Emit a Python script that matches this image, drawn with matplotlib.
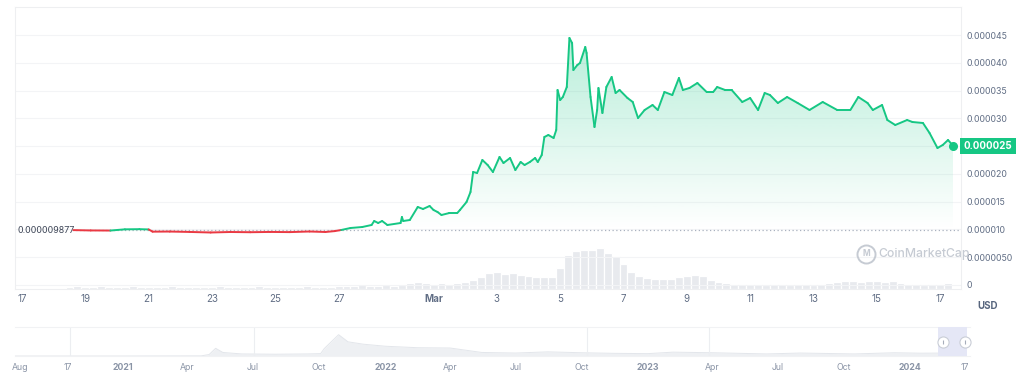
import numpy as np
import pandas as pd
import matplotlib
matplotlib.use("Agg")
import matplotlib.pyplot as plt
import matplotlib.dates as mdates
from matplotlib.collections import LineCollection
from matplotlib.path import Path
from matplotlib.patches import PathPatch, Rectangle
from matplotlib.lines import Line2D
from matplotlib.colors import to_rgb

plt.rcParams["font.family"] = ["Inter", "DejaVu Sans"]

GREEN = "#16c784"
RED = "#ea3943"
GREY = "#616e85"

START = pd.Timestamp("2024-02-17")
BASE_PRICE = 9.877e-6

# price, hours since 2024-02-17 00:00, in units of 1e-6 USD
price_hours = [39, 52, 67, 78, 89, 96, 99, 112, 127, 143,
               158, 173, 188, 203, 218, 230, 237, 242, 249, 258,
               265, 267, 270, 273, 277, 287, 288, 289, 294, 300,
               304, 309, 312, 315, 318, 324, 330, 332, 337, 340,
               342, 345, 349, 353, 357, 362, 365, 370, 374, 378,
               381, 385, 389, 391, 394, 396, 399, 403, 405, 406,
               408, 410, 413, 415, 417, 418, 421, 423, 427, 428,
               431, 434, 436, 437, 440, 443, 447, 450, 453, 459,
               463, 467, 472, 478, 482, 487, 493, 498, 501, 506,
               512, 519, 524, 527, 533, 538, 546, 552, 558, 563,
               567, 573, 580, 588, 597, 607, 618, 628, 634, 641,
               645, 652, 656, 662, 671, 675, 683, 688, 694, 698,
               702, 706]
price_e6 = [9.88, 9.82, 9.80, 10.02, 10.05, 10.00, 9.60, 9.62, 9.55, 9.45,
            9.54, 9.50, 9.55, 9.52, 9.63, 9.54, 9.70, 9.90, 10.26, 10.44,
            10.80, 11.52, 11.16, 11.52, 10.80, 11.16, 12.24, 11.52, 11.70, 14.04,
            13.68, 14.22, 13.50, 13.14, 12.60, 12.96, 12.96, 13.50, 14.94, 16.74,
            20.34, 20.16, 22.50, 21.60, 20.34, 23.04, 21.96, 22.86, 20.70, 22.14,
            21.60, 22.14, 22.86, 22.14, 23.40, 26.64, 27.00, 26.46, 27.90, 35.10,
            33.30, 33.84, 35.64, 44.46, 43.56, 38.70, 39.60, 39.96, 42.84, 41.76,
            33.84, 28.44, 31.50, 35.46, 30.96, 35.64, 37.44, 34.56, 35.10, 33.66,
            32.94, 30.06, 31.50, 32.40, 31.50, 34.74, 34.20, 37.26, 35.10, 35.46,
            36.36, 34.74, 34.74, 35.64, 35.10, 35.10, 32.94, 33.66, 31.50, 34.56,
            34.20, 32.76, 33.84, 32.76, 31.50, 32.94, 31.50, 31.50, 33.84, 32.76,
            31.50, 32.40, 29.70, 28.80, 29.70, 29.34, 29.16, 27.36, 24.66, 25.20,
            26.10, 25.02]

# 6-hour volume bars (relative units), first bar at hour 36
volume = [2, 3, 2, 2, 3, 2, 2, 2, 3, 2,
          2, 2, 2, 3, 2, 2, 2, 2, 2, 3,
          2, 2, 2, 2, 3, 2, 2, 2, 2, 2,
          3, 2, 2, 2, 3,
          3, 3, 4, 3, 3, 4, 3, 4,
          6, 7, 6, 5, 6, 5, 6, 7,
          9, 12,
          16, 17, 15, 16,
          14, 13, 12, 12,
          12, 21, 33, 37, 38, 38, 40, 35, 32, 24, 17, 13, 11,
          10, 10, 10, 12, 13, 14, 13, 9, 7, 6, 5, 5, 5,
          5, 4, 5, 5, 4, 5, 5, 4,
          5, 6, 7, 8, 8, 7, 8,
          8, 7, 8, 6, 5,
          5, 4, 5, 5, 6]

x_tick_dates = ["2024-02-17", "2024-02-19", "2024-02-21", "2024-02-23", "2024-02-25",
                "2024-02-27", "2024-03-01", "2024-03-03", "2024-03-05", "2024-03-07",
                "2024-03-09", "2024-03-11", "2024-03-13", "2024-03-15", "2024-03-17"]
x_tick_labels = ["17", "19", "21", "23", "25", "27", "Mar", "3", "5", "7",
                 "9", "11", "13", "15", "17"]

# the 0.000025 level is covered by the current-price tag
y_tick_e6 = [0, 5, 10, 15, 20, 25, 30, 35, 40, 45]
y_tick_labels = ["0", "0.0000050", "0.000010", "0.000015", "0.000020",
                 "", "0.000030", "0.000035", "0.000040", "0.000045"]
last_price_label = "0.000025"

# full-history navigator (1e-6 USD)
nav_dates = ["2020-08-04", "2020-12-31", "2021-04-20", "2021-05-01", "2021-05-10",
             "2021-05-20", "2021-06-15", "2021-08-01", "2021-09-15", "2021-10-03",
             "2021-10-08", "2021-10-28", "2021-11-10", "2021-12-01", "2022-01-01",
             "2022-02-15", "2022-04-01", "2022-05-15", "2022-07-01", "2022-08-15",
             "2022-10-01", "2022-11-15", "2023-01-01", "2023-02-05", "2023-04-01",
             "2023-06-15", "2023-08-01", "2023-10-15", "2023-12-10", "2024-01-15",
             "2024-02-17", "2024-03-05", "2024-03-17"]
nav_price_e6 = [0.0, 0.01, 0.5, 5, 26, 12, 7, 6, 7, 8,
                25, 72, 48, 40, 33, 28, 27, 12, 10, 14,
                11, 9, 8, 13, 11, 7, 10, 7, 11, 9.5,
                9.9, 35, 25]
nav_grid_dates = ["2020-10-20", "2021-07-03", "2022-10-08", "2023-03-27"]
nav_tick_dates = ["2020-08-11", "2020-10-17", "2021-01-01", "2021-04-01", "2021-07-01",
                  "2021-10-01", "2022-01-01", "2022-04-01", "2022-07-01", "2022-10-01",
                  "2023-01-01", "2023-04-01", "2023-07-01", "2023-10-01", "2024-01-01",
                  "2024-03-17"]
nav_tick_labels = ["Aug", "17", "2021", "Apr", "Jul", "Oct", "2022", "Apr", "Jul", "Oct",
                   "2023", "Apr", "Jul", "Oct", "2024", "17"]


def to_num(dates):
    return mdates.date2num(pd.to_datetime(dates).values)


def main():
    fig = plt.figure(figsize=(10.24, 3.82), dpi=100)
    W, H = 1024, 382

    # -----------------------
    # main price panel
    # -----------------------
    ax = fig.add_axes([15 / W, 1 - 289 / H, 946 / W, 282 / H])
    vax = ax.twinx()
    ax.set_zorder(vax.get_zorder() + 1)
    ax.patch.set_visible(False)

    t = mdates.date2num((START + pd.to_timedelta(price_hours, unit="h")).values)
    p = np.array(price_e6) * 1e-6
    t0 = mdates.date2num(START.to_datetime64())

    # volume
    vol_t = mdates.date2num((START + pd.to_timedelta(np.arange(36, 36 + 6 * len(volume), 6), unit="h")).values)
    vax.bar(vol_t, volume, width=0.25, color="#e8eaee", edgecolor="white", linewidth=0.9)
    vax.set_ylim(0, max(volume) / 0.145)
    vax.set_yticks([])
    for s in vax.spines.values():
        s.set_visible(False)

    # gradient fill above the opening price
    above = ax.fill_between(t, p, BASE_PRICE, where=p >= BASE_PRICE, interpolate=True,
                            facecolor="none", edgecolor="none")
    clip = PathPatch(Path.make_compound_path(*above.get_paths()), transform=ax.transData,
                     facecolor="none", edgecolor="none")
    ax.add_patch(clip)
    grad = np.zeros((256, 1, 4))
    grad[:, 0, :3] = to_rgb(GREEN)
    grad[:, 0, 3] = np.linspace(0.30, 0.0, 256)
    im = ax.imshow(grad, aspect="auto", origin="upper", zorder=2,
                   extent=[t.min(), t.max(), BASE_PRICE, p.max()])
    im.set_clip_path(clip)
    ax.fill_between(t, p, BASE_PRICE, where=p < BASE_PRICE, interpolate=True,
                    color=RED, alpha=0.08, lw=0, zorder=2)

    # price line, red below opening price, green above
    pts = np.column_stack([t, p])
    segs = np.stack([pts[:-1], pts[1:]], axis=1)
    mid = (p[:-1] + p[1:]) / 2
    colors = [GREEN if m >= BASE_PRICE else RED for m in mid]
    lc = LineCollection(segs, colors=colors, linewidths=1.4, capstyle="round", zorder=4)
    ax.add_collection(lc)
    ax.plot(t[-1], p[-1], "o", ms=5.5, color=GREEN, zorder=6)

    ax.axhline(BASE_PRICE, xmin=0.06, color="#a9b1bf", lw=0.9, ls=(0, (1, 2)), zorder=3)
    ax.text(0.003, BASE_PRICE, "0.000009877", transform=ax.get_yaxis_transform(),
            ha="left", va="center", fontsize=6.4, color="#3d4556")

    ax.set_xlim(t0 - 0.221, t0 + 29.66)
    ax.set_ylim(-0.72e-6, 50.04e-6)

    ax.set_xticks(to_num(x_tick_dates))
    ax.set_xticklabels(x_tick_labels)
    for lab in ax.get_xticklabels():
        if lab.get_text() == "Mar":
            lab.set_fontweight("bold")
            lab.set_color("#3d4556")
    ax.tick_params(axis="x", length=0, pad=3.5, labelsize=7, labelcolor=GREY)

    ax.yaxis.tick_right()
    ax.set_yticks(np.array(y_tick_e6) * 1e-6)
    ax.set_yticklabels(y_tick_labels)
    ax.tick_params(axis="y", length=0, pad=4, labelsize=6.3, labelcolor=GREY)
    ax.grid(axis="y", color="#f3f4f6", lw=0.8)
    for s in ax.spines.values():
        s.set_color("#eeeff1")
        s.set_linewidth(0.8)

    ax.text(1.003, p[-1], last_price_label, transform=ax.get_yaxis_transform(),
            ha="left", va="center", fontsize=7, color="white", fontweight="bold",
            bbox=dict(boxstyle="square,pad=0.35", fc=GREEN, ec="none"),
            zorder=10, clip_on=False)

    # watermark
    fig.add_artist(Line2D([866 / W], [1 - 254 / H], marker="o", ms=13, mfc="none",
                          mec="#c6cbd3", mew=1.4, transform=fig.transFigure))
    fig.text(866 / W, 1 - 254 / H, "M", fontsize=6, color="#c6cbd3", fontweight="bold",
             ha="center", va="center")
    fig.text(878 / W, 1 - 254 / H, "CoinMarketCap", fontsize=8.8, color="#c6cbd3",
             fontweight="medium", ha="left", va="center")
    fig.text(988 / W, 1 - 306 / H, "USD", fontsize=7, fontweight="bold", color="#58667e",
             ha="center", va="center")

    # -----------------------
    # navigator
    # -----------------------
    nax = fig.add_axes([15 / W, 1 - 356 / H, 955 / W, 29 / H])
    nt = to_num(nav_dates)
    nav_p = np.array(nav_price_e6)
    nax.fill_between(nt, nav_p, 0, color="#eef0f3", lw=0)
    nax.plot(nt, nav_p, color="#e3e6eb", lw=0.7)
    for d in to_num(nav_grid_dates):
        nax.axvline(d, color="#eceef1", lw=0.8)
    sel = to_num(["2024-02-09", "2024-03-20"])
    nax.add_patch(Rectangle((sel[0], 0), sel[1] - sel[0], 1.0, transform=nax.get_xaxis_transform(),
                            facecolor="#e5e7f6", edgecolor="none", zorder=3))
    handles = to_num(["2024-02-15", "2024-03-17"])
    nax.plot(handles, [0.5, 0.5], transform=nax.get_xaxis_transform(), ls="none", marker="o",
             ms=8, mfc="white", mec="#c9cdd6", mew=0.8, zorder=5, clip_on=False)
    nax.plot(handles, [0.5, 0.5], transform=nax.get_xaxis_transform(), ls="none", marker="|",
             ms=3, mec="#a6adba", mew=0.8, zorder=6, clip_on=False)
    nax.set_xlim(to_num(["2020-08-04", "2024-03-24"]))
    nax.set_ylim(0, 98)
    nax.set_yticks([])
    nax.set_xticks(to_num(nav_tick_dates))
    nax.set_xticklabels(nav_tick_labels)
    for lab in nax.get_xticklabels():
        if lab.get_text().isdigit() and len(lab.get_text()) == 4:
            lab.set_fontweight("bold")
            lab.set_color("#58667e")
    nax.tick_params(axis="x", length=0, pad=5, labelsize=6.3, labelcolor="#8a94a6")
    for name, s in nax.spines.items():
        s.set_visible(name in ("top", "bottom"))
        s.set_color("#f1f2f4")
        s.set_linewidth(0.8)

    fig.savefig("out.png", dpi=100)
    plt.close(fig)


if __name__ == "__main__":
    main()
